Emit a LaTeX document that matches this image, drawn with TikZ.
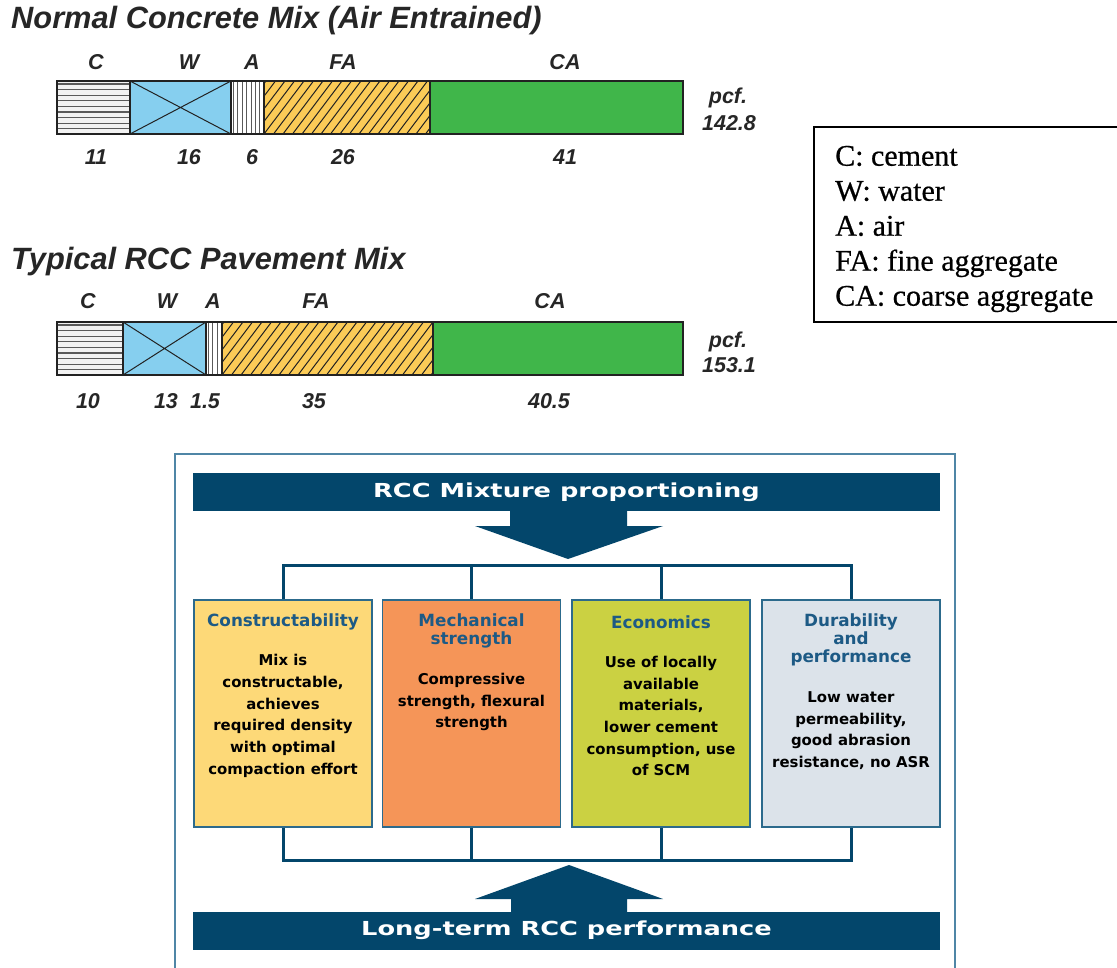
\documentclass[tikz,border=0pt]{standalone}
\usepackage{fontspec}
\setmainfont{Liberation Sans}
\newfontfamily\legfont[FakeBold=0.6]{Liberation Serif}
\newfontfamily\dvs{DejaVu Sans}
\newfontfamily\dvsw[FakeStretch=1.33]{DejaVu Sans}
\definecolor{navy}{RGB}{3,70,107}
\definecolor{boxline}{RGB}{44,106,140}
\definecolor{panelline}{RGB}{79,134,166}
\definecolor{ttlblue}{RGB}{29,90,133}
\definecolor{ybox}{RGB}{253,217,120}
\definecolor{obox}{RGB}{245,149,88}
\definecolor{gbox}{RGB}{203,209,66}
\definecolor{bbox}{RGB}{220,227,234}
\definecolor{fafill}{RGB}{251,203,87}
\definecolor{wfill}{RGB}{134,207,239}
\definecolor{cagreen}{RGB}{64,182,74}
\definecolor{cfill}{RGB}{242,242,242}
\definecolor{barline}{RGB}{34,34,34}
\definecolor{hatch}{RGB}{90,90,90}
\tikzset{
  ttl/.style={font=\fontsize{30.8}{36}\selectfont\bfseries\itshape, anchor=west, inner sep=0, text=black!85},
  lbl/.style={font=\fontsize{21.5}{25}\selectfont\bfseries\itshape, inner sep=0, text=black!85},
  legtext/.style={font=\legfont\fontsize{30}{35}\selectfont, inner sep=0, align=left, anchor=west},
  banner/.style={fill=navy, text=white, inner sep=0, minimum width=747, minimum height=38,
     font=\dvsw\bfseries\fontsize{19.3}{22}\selectfont},
  mixbox/.style={draw=boxline, line width=1.6, minimum width=178, minimum height=227, inner sep=0},
  boxttl/.style={font=\dvs\bfseries\fontsize{16.8}{18}\selectfont, text=ttlblue, align=center, inner sep=0},
  boxbody/.style={font=\dvs\bfseries\fontsize{14.9}{21.7}\selectfont, text=black, align=center, inner sep=0},
  conn/.style={draw=navy, line width=3},
  hline/.style={draw=hatch, line width=1.1},
  segline/.style={draw=barline, line width=1.3},
}
% #1 top, #2 bottom, #3..#8 x boundaries
\newcommand\mixbar[8]{%
  \fill[cfill] (#3,#1) rectangle (#4,#2);
  \begin{scope}
    \clip (#3,#1) rectangle (#4,#2);
    \foreach \k in {0,...,9} \draw[hline] (#3,{#1+3+\k*5.6}) -- (#4,{#1+3+\k*5.6});
  \end{scope}
  \fill[wfill] (#4,#1) rectangle (#5,#2);
  \draw[segline, line width=1] (#4,#1) -- (#5,#2) (#4,#2) -- (#5,#1);
  \fill[white] (#5,#1) rectangle (#6,#2);
  \begin{scope}
    \clip (#5,#1) rectangle (#6,#2);
    \foreach \k in {0,...,10} \draw[hline] ({#5+2.5+\k*4.4},#1) -- ({#5+2.5+\k*4.4},#2);
  \end{scope}
  \fill[fafill] (#6,#1) rectangle (#7,#2);
  \begin{scope}
    \clip (#6,#1) rectangle (#7,#2);
    \foreach \k in {-6,...,25} \draw[segline, line width=1] ({#6+\k*9.5},#2) -- ({#6+\k*9.5+40},#1);
  \end{scope}
  \fill[cagreen] (#7,#1) rectangle (#8,#2);
  \draw[segline] (#4,#1) -- (#4,#2) (#5,#1) -- (#5,#2) (#6,#1) -- (#6,#2) (#7,#1) -- (#7,#2);
  \draw[barline, line width=2] (#3,#1) rectangle (#8,#2);
}
\begin{document}
\begin{tikzpicture}[x=1pt, y=-1pt]
\useasboundingbox[fill=white] (0,0) rectangle (1117,968);

% ---------- Normal concrete mix ----------
\node[ttl] (t1) at (11,21) {Normal Concrete Mix (Air Entrained)};
\mixbar{81}{134}{57}{130}{231}{264}{430}{683}
\node[lbl] (c1) at (96,62) {C};
\node[lbl] (w1) at (189,62) {W};
\node[lbl] (a1) at (252,62) {A};
\node[lbl] (fa1) at (343,62) {FA};
\node[lbl] (ca1) at (565,62) {CA};
\node[lbl] (nc1) at (96,157) {11};
\node[lbl] (nw1) at (189,157) {16};
\node[lbl] (na1) at (252,157) {6};
\node[lbl] (nfa1) at (343,157) {26};
\node[lbl] (nca1) at (565,157) {41};
\node[lbl] (p1) at (728,98) {pcf.};
\node[lbl] (v1) at (729,123) {142.8};

% ---------- RCC mix ----------
\node[ttl] (t2) at (11,262) {Typical RCC Pavement Mix};
\mixbar{322}{375}{57}{123}{206}{222}{433}{683}
\node[lbl] (c2) at (88,301) {C};
\node[lbl] (w2) at (167,301) {W};
\node[lbl] (a2) at (213,301) {A};
\node[lbl] (fa2) at (316,301) {FA};
\node[lbl] (ca2) at (550,301) {CA};
\node[lbl] (nc2) at (88,401) {10};
\node[lbl] (nw2) at (166,401) {13};
\node[lbl] (na2) at (205,401) {1.5};
\node[lbl] (nfa2) at (314,401) {35};
\node[lbl] (nca2) at (549,401) {40.5};
\node[lbl] (p2) at (728,342) {pcf.};
\node[lbl] (v2) at (729,365) {153.1};

% ---------- legend ----------
\draw[black, line width=1.4] (1119,127) -- (814,127) -- (814,322) -- (1119,322);
\node[legtext] (legend) at (835,229) {C: cement\\W: water\\A: air\\FA: fine aggregate\\CA: coarse aggregate};

% ---------- RCC proportioning panel ----------
\draw[panelline, line width=2] (175,975) -- (175,454) -- (955,454) -- (955,975);
\node[banner] (top) at (566.5,492) {RCC Mixture proportioning};
\fill[navy] (510,510) -- (510,526) -- (475,526) -- (568,559) -- (663,526) -- (627,526) -- (627,510) -- cycle;

\node[mixbox, fill=ybox] (b1) at (283,713.5) {};
\node[mixbox, fill=obox] (b2) at (471.5,713.5) {};
\node[mixbox, fill=gbox] (b3) at (661,713.5) {};
\node[mixbox, fill=bbox] (b4) at (851,713.5) {};

\node[boxttl] (h1) at (283,622) {Constructability};
\node[boxbody] (d1) at (283,716) {Mix is\\constructable,\\achieves\\required density\\with optimal\\compaction effort};
\node[boxttl] (h2) at (471.5,631) {Mechanical\\strength};
\node[boxbody] (d2) at (471.5,702) {Compressive\\strength, flexural\\strength};
\node[boxttl] (h3) at (661,622) {Economics};
\node[boxbody] (d3) at (661,716) {Use of locally\\available\\materials,\\lower cement\\consumption, use\\of SCM};
\node[boxttl] (h4) at (851,640) {Durability\\and\\performance};
\node[boxbody] (d4) at (851,730.5) {Low water\\permeability,\\good abrasion\\resistance, no ASR};

\coordinate (hu) at (568,565);
\draw[conn] (b1.north) |- (hu) -| (b4.north);
\draw[conn] (b2.north) -- (b2.north |- hu);
\draw[conn] (b3.north) -- (b3.north |- hu);

\coordinate (hd) at (568,860);
\draw[conn] (b1.south) |- (hd) -| (b4.south);
\draw[conn] (b2.south) -- (b2.south |- hd);
\draw[conn] (b3.south) -- (b3.south |- hd);

\node[banner] (bot) at (566.5,930.5) {Long-term RCC performance};
\fill[navy] (511,913) -- (511,899) -- (475,899) -- (569,865) -- (663,899) -- (627,899) -- (627,913) -- cycle;
\end{tikzpicture}
\end{document}
